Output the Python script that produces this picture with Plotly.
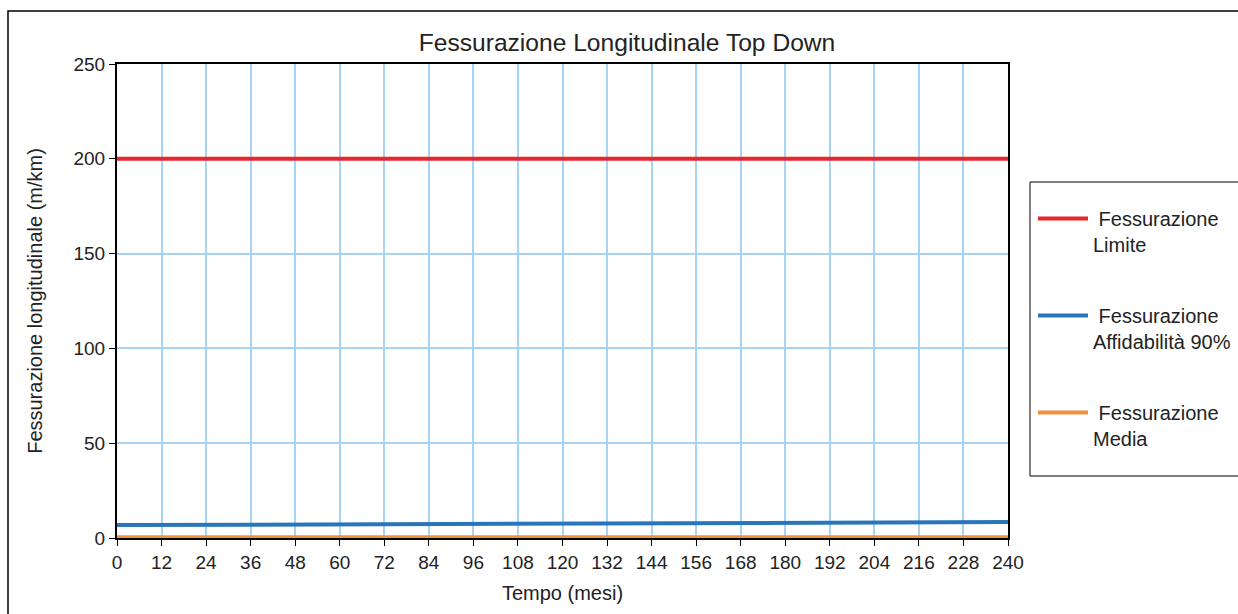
import plotly.graph_objects as go

months = list(range(0, 241, 12))
limite = [200] * len(months)
affidabilita = [6.8, 6.9, 7.0, 7.1, 7.2, 7.3, 7.4, 7.5, 7.5, 7.6, 7.7, 7.7, 7.8, 7.9, 7.9, 8.0, 8.1, 8.1, 8.2, 8.3, 8.4]
media = [0.4] * len(months)

x_ticks = list(range(0, 241, 12))
y_ticks = [0, 50, 100, 150, 200, 250]

fig = go.Figure()
fig.add_trace(go.Scatter(x=months, y=limite, mode="lines", name=" Fessurazione<br>Limite",
                         line=dict(color="#e8262c", width=4), legendgroup="a"))
fig.add_trace(go.Scatter(x=months, y=affidabilita, mode="lines", name=" Fessurazione<br>Affidabilità 90%",
                         line=dict(color="#2a74b9", width=4), legendgroup="b"))
fig.add_trace(go.Scatter(x=months, y=media, mode="lines", name=" Fessurazione<br>Media",
                         line=dict(color="#f0923c", width=4), legendgroup="c"))

W, H = 1238, 614
L, R, T, B = 117, 1008, 64, 538
pw, ph = R - L, B - T

def px(x):
    return (x - L) / pw

def py(y):
    return (B - y) / ph

fig.update_layout(
    width=W, height=H,
    margin=dict(l=L, r=W - R, t=T, b=H - B, autoexpand=False),
    paper_bgcolor="white", plot_bgcolor="white",
    font=dict(family="Liberation Sans, Arial, sans-serif", size=18, color="#222"),
    title=dict(text="Fessurazione Longitudinale Top Down", x=627 / W, xref="container", xanchor="center",
               y=1 - 42 / H, yanchor="middle", font=dict(size=24.6, color="#222")),
    xaxis=dict(range=[0, 240], tickvals=x_ticks, ticks="outside", ticklen=6, tickcolor="black",
               tickfont=dict(size=19),
               showline=True, linecolor="black", linewidth=2, mirror=True,
               showgrid=True, gridcolor="#a6d4f7", gridwidth=1.5, zeroline=False,
               title=dict(text="Tempo (mesi)", standoff=14, font=dict(size=20))),
    yaxis=dict(range=[0, 250], tickvals=y_ticks, ticks="outside", ticklen=6, tickcolor="black",
               tickfont=dict(size=19),
               showline=True, linecolor="black", linewidth=2, mirror=True,
               showgrid=True, gridcolor="#a6d4f7", gridwidth=1.5, zeroline=False,
               title=dict(text="Fessurazione longitudinale (m/km)", standoff=25, font=dict(size=20))),
    legend=dict(x=px(1033), y=py(199), xanchor="left", yanchor="top", valign="top",
                bgcolor="rgba(0,0,0,0)", borderwidth=0, tracegroupgap=42, itemwidth=50,
                traceorder="grouped", font=dict(size=20, color="#222")),
    showlegend=True,
)

fig.add_shape(type="rect", xref="paper", yref="paper",
              x0=px(8), x1=px(1260), y0=py(640), y1=py(11),
              line=dict(color="black", width=1.5), fillcolor="rgba(0,0,0,0)", layer="below")
fig.add_shape(type="rect", xref="paper", yref="paper",
              x0=px(1030), x1=px(1260), y0=py(476), y1=py(182),
              line=dict(color="black", width=1), fillcolor="rgba(0,0,0,0)", layer="below")

fig.write_html("out.html", config={"displayModeBar": False},
               post_script="document.body.style.margin='0';document.body.style.overflow='hidden';")
